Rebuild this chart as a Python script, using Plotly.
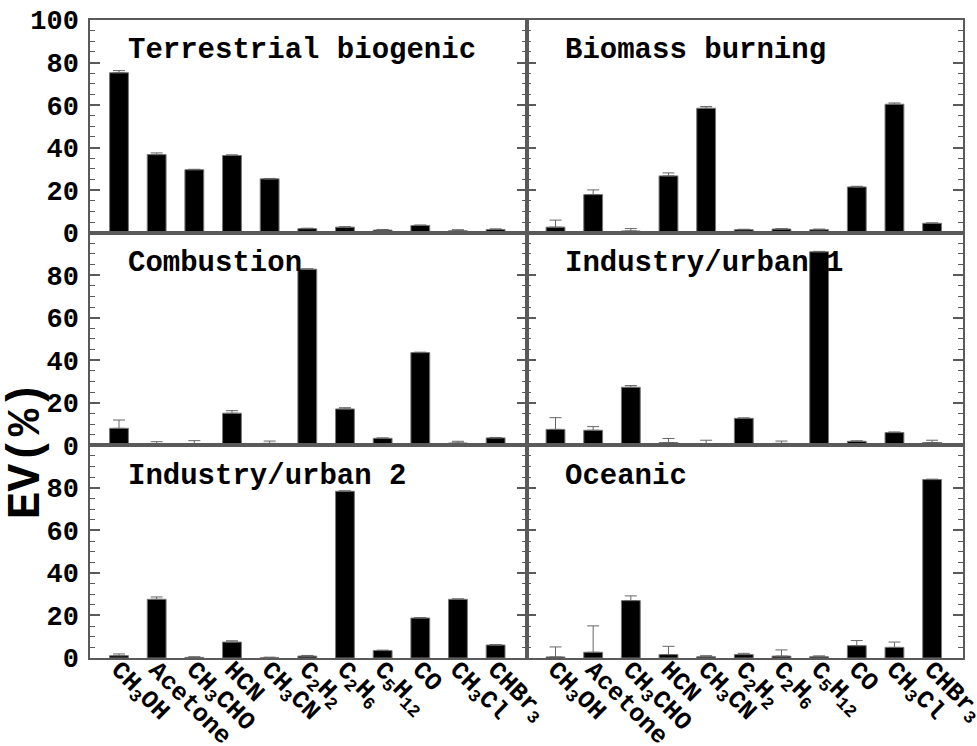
import plotly.graph_objects as go
from plotly.subplots import make_subplots

categories = ["CH<sub>3</sub>OH", "Acetone", "CH<sub>3</sub>CHO", "HCN", "CH<sub>3</sub>CN",
              "C<sub>2</sub>H<sub>2</sub>", "C<sub>2</sub>H<sub>6</sub>", "C<sub>5</sub>H<sub>12</sub>",
              "CO", "CH<sub>3</sub>Cl", "CHBr<sub>3</sub>"]

panel_titles = ["Terrestrial biogenic", "Biomass burning", "Combustion",
                "Industry/urban 1", "Industry/urban 2", "Oceanic"]

terrestrial = [75.2, 36.7, 29.6, 36.3, 25.3, 1.9, 2.6, 1.2, 3.4, 0.9, 1.5]
terrestrial_err = [1.0, 0.8, 0.2, 0.3, 0.2, 0.2, 0.2, 0.3, 0.2, 0.5, 0.3]
biomass = [2.6, 17.9, 0.8, 26.7, 58.5, 1.4, 1.7, 1.4, 21.5, 60.4, 4.4]
biomass_err = [3.3, 2.2, 1.1, 1.4, 0.8, 0.2, 0.2, 0.3, 0.3, 0.6, 0.2]
combustion = [8.0, 0.5, 0.6, 15.1, 0.9, 82.8, 17.1, 3.3, 43.6, 1.1, 3.5]
combustion_err = [3.9, 1.2, 1.6, 1.2, 1.1, 0.2, 0.6, 0.2, 0.2, 0.8, 0.2]
industry1 = [7.5, 7.1, 27.3, 1.3, 0.5, 12.7, 0.9, 91.0, 1.9, 6.0, 1.3]
industry1_err = [5.5, 1.7, 0.8, 1.9, 1.9, 0.2, 1.1, 0.2, 0.2, 0.3, 1.1]
industry2 = [1.1, 27.6, 0.3, 7.5, 0.1, 0.9, 78.4, 3.5, 18.8, 27.6, 6.1]
industry2_err = [0.8, 1.1, 0.3, 0.6, 0.3, 0.3, 0.2, 0.2, 0.2, 0.2, 0.2]
oceanic = [0.5, 2.7, 27.0, 1.6, 0.6, 1.6, 0.9, 0.6, 5.8, 5.0, 83.9]
oceanic_err = [4.7, 12.4, 2.2, 3.9, 0.5, 0.6, 2.9, 0.4, 2.4, 2.5, 0.2]

series = [(terrestrial, terrestrial_err), (biomass, biomass_err),
          (combustion, combustion_err), (industry1, industry1_err),
          (industry2, industry2_err), (oceanic, oceanic_err)]

y_tickvals = [0, 20, 40, 60, 80, 100]
y_ticktext_top = ["0", "20", "40", "60", "80", "100"]
y_ticktext_other = ["0", "20", "40", "60", "80", ""]

FONT = "Liberation Mono"
LINE = "#5a5a5a"

fig = make_subplots(rows=3, cols=2, horizontal_spacing=0, vertical_spacing=0)

xpos = list(range(len(categories)))
for i, (vals, errs) in enumerate(series):
    r = i // 2 + 1
    c = i % 2 + 1
    fig.add_trace(go.Bar(
        x=xpos, y=vals, width=0.5,
        marker=dict(color="black", line=dict(color="#777777", width=1)),
        error_y=dict(type="data", symmetric=False, array=errs,
                     arrayminus=[0] * len(errs), color="#666666",
                     thickness=1, width=6),
        showlegend=False,
    ), row=r, col=c)
    fig.add_annotation(
        text=panel_titles[i], xref="x domain" if i == 0 else f"x{i+1} domain",
        yref="y domain" if i == 0 else f"y{i+1} domain",
        x=0.083, y=0.855, xanchor="left", yanchor="middle", showarrow=False,
        font=dict(family=FONT, size=29, color="black", weight="bold"))

    fig.update_xaxes(
        range=[-0.77, 10.82], tickvals=xpos, ticktext=categories,
        showticklabels=(r == 3), tickangle=45, ticks="", automargin=False,
        ticklabeloverflow="allow", ticklabelstandoff=-15,
        tickfont=dict(family=FONT, size=25, color="black", weight="bold"),
        showline=True, mirror=True, linecolor=LINE, linewidth=1.5,
        showgrid=False, zeroline=False, row=r, col=c)
    fig.update_yaxes(
        range=[0, 100], tickvals=y_tickvals, automargin=False,
        ticktext=y_ticktext_top if r == 1 else y_ticktext_other,
        showticklabels=(c == 1), ticks="inside", ticklen=10, tickwidth=1.5,
        tickcolor=LINE, ticklabelstandoff=4,
        minor=dict(dtick=5, ticks="inside", ticklen=5, tickwidth=1, tickcolor=LINE),
        tickfont=dict(family=FONT, size=27, color="black", weight="bold"),
        showline=True, mirror="ticks", linecolor=LINE, linewidth=1.5,
        showgrid=False, zeroline=False, row=r, col=c)

fig.add_annotation(
    text="EV(%)", xref="paper", yref="paper", x=-0.072, y=0.326,
    xanchor="center", yanchor="middle", textangle=-90, showarrow=False,
    font=dict(family=FONT, size=46, color="black", weight="bold"))

fig.update_layout(
    width=977, height=746, margin=dict(l=90, r=14, t=20, b=88, autoexpand=False),
    plot_bgcolor="white", paper_bgcolor="white", bargap=0.5)

fig.write_html("out.html")
